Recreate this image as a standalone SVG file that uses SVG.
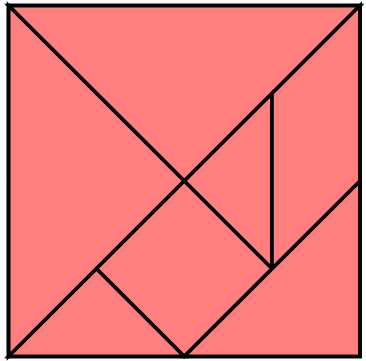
<svg xmlns="http://www.w3.org/2000/svg" width="366" height="361" viewBox="0 0 366 361">
<style>
.p{fill:#ff7f7f;stroke:#000;stroke-width:3.6;stroke-linejoin:miter}
</style>
<rect width="366" height="361" fill="#fff"/>
<g id="pieces">
<polygon id="top" class="p" points="8.5,5.5 360,5.5 184.25,181"/>
<polygon id="left" class="p" points="8.5,5.5 184.25,181 8.5,356.5"/>
<polygon id="smallTri1" class="p" points="184.25,181 272,93.4 272,268.75"/>
<polygon id="parallelogram" class="p" points="272,93.4 360,5.5 360,181 272,268.75"/>
<polygon id="square" class="p" points="184.25,181 272,268.75 184.25,356.5 96.4,268.75"/>
<polygon id="smallTri2" class="p" points="96.4,268.75 184.25,356.5 8.5,356.5"/>
<polygon id="medTri" class="p" points="360,181 360,356.5 184.25,356.5"/>
</g>
<rect x="8.5" y="5.5" width="351.5" height="351" fill="none" stroke="#000" stroke-width="3.6"/>
</svg>
